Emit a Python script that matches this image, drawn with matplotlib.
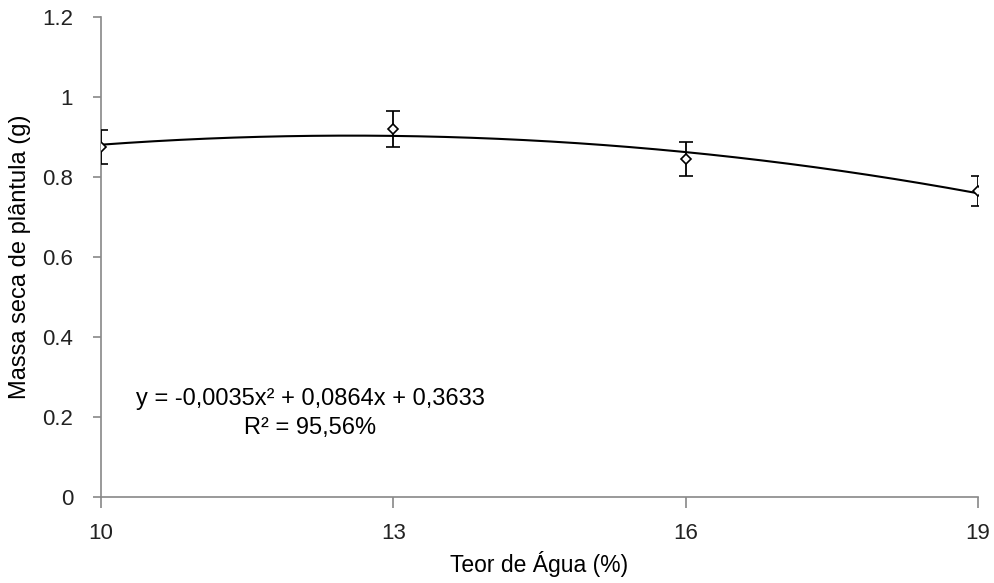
import numpy as np
from matplotlib import pyplot as plt

plt.rcParams['font.family'] = ['Liberation Sans', 'DejaVu Sans']

teor_agua = [10, 13, 16, 19]
massa_seca = [0.875, 0.92, 0.845, 0.765]
erro = [0.043, 0.045, 0.043, 0.038]

equacao = 'y = -0,0035x² + 0,0864x + 0,3633'
r2 = 'R² = 95,56%'

fig = plt.figure(figsize=(9.95, 5.83), dpi=100)
ax = fig.add_axes([101/995, 86/583, 877/995, 480/583])

# linha de tendência polinomial (grau 2)
coef = np.polyfit(teor_agua, massa_seca, 2)
xs = np.linspace(10, 19, 200)
ax.plot(xs, np.polyval(coef, xs), color='black', linewidth=1.5)

ax.errorbar(teor_agua, massa_seca, yerr=erro, fmt='D', markersize=5,
            markerfacecolor='white', markeredgecolor='black', markeredgewidth=1.2,
            ecolor='black', elinewidth=1.3, capsize=5, capthick=1.3, zorder=3)

ax.text(12.15, 0.245, equacao, ha='center', va='center', fontsize=17)
ax.text(12.15, 0.172, r2, ha='center', va='center', fontsize=17)

ax.set_xlim(10, 19)
ax.set_ylim(0, 1.2)
ax.set_xticks(teor_agua)
ax.set_yticks([0, 0.2, 0.4, 0.6, 0.8, 1, 1.2])
ax.set_yticklabels(['0', '0.2', '0.4', '0.6', '0.8', '1', '1.2'])

ax.set_xlabel('Teor de Água (%)', fontsize=16.5, labelpad=5)
ax.set_ylabel('Massa seca de plântula (g)', fontsize=17, labelpad=8)

for lado in ['top', 'right']:
    ax.spines[lado].set_visible(False)
for lado in ['left', 'bottom']:
    ax.spines[lado].set_color('#888888')
    ax.spines[lado].set_linewidth(1.2)
ax.tick_params(colors='#888888', labelcolor='#222222', labelsize=16, width=1.2)
ax.tick_params(axis='x', length=8, pad=11)
ax.tick_params(axis='y', length=6, pad=14)

plt.savefig('out.png')
